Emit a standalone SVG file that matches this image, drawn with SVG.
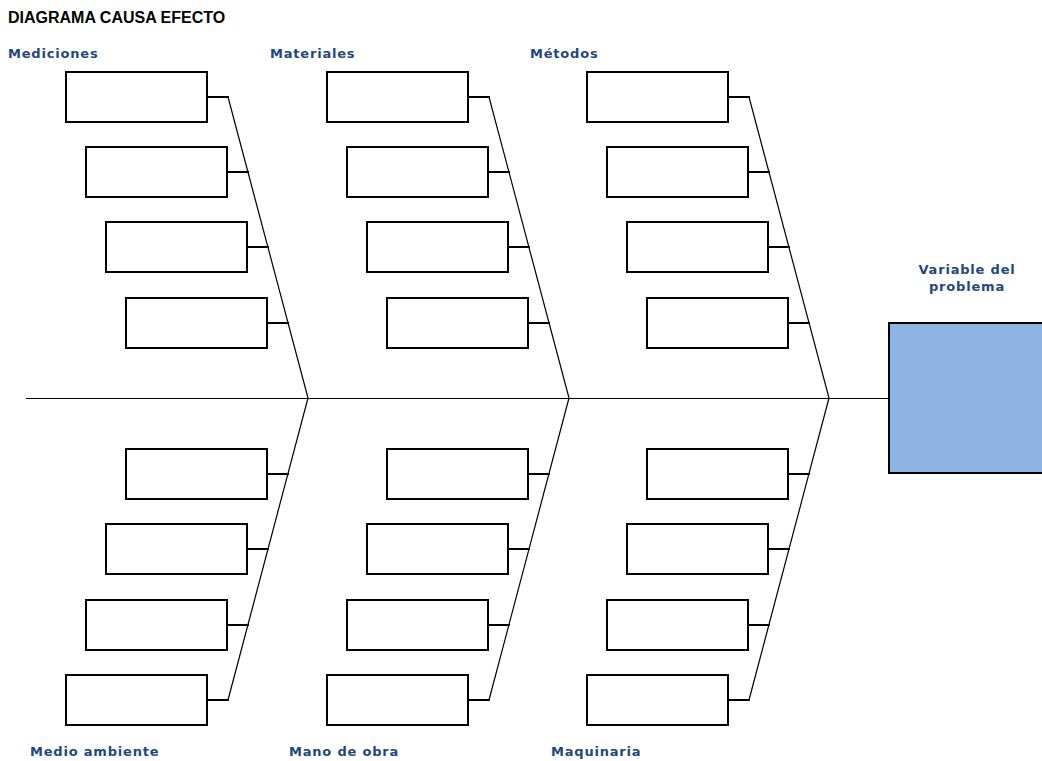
<svg xmlns="http://www.w3.org/2000/svg" width="1042" height="761" viewBox="0 0 1042 761">
<defs>
<style>
.box{fill:#fff;stroke:#000;stroke-width:2}
.stub{stroke:#000;stroke-width:2;fill:none}
.bone{stroke:#000;stroke-width:1.2;fill:none}
.spine{stroke:#000;stroke-width:1;fill:none}
.cat{font-family:"DejaVu Sans",Verdana,sans-serif;font-weight:bold;font-size:13px;letter-spacing:0.8px;fill:#1F497D}
.title{font-family:"Liberation Sans",Arial,sans-serif;font-weight:bold;font-size:16px;fill:#000}
</style>
<g id="cause-set">
<rect class="box" x="66" y="72" width="141" height="50"/><line class="stub" x1="207" y1="97" x2="229" y2="97"/>
<rect class="box" x="86" y="147" width="141" height="50"/><line class="stub" x1="227" y1="172" x2="249" y2="172"/>
<rect class="box" x="106" y="222" width="141" height="50"/><line class="stub" x1="247" y1="247" x2="269" y2="247"/>
<rect class="box" x="126" y="298" width="141" height="50"/><line class="stub" x1="267" y1="323" x2="289" y2="323"/>
</g>
<g id="cause-set-b">
<rect class="box" x="126" y="449" width="141" height="50"/><line class="stub" x1="267" y1="474" x2="289" y2="474"/>
<rect class="box" x="106" y="524" width="141" height="50"/><line class="stub" x1="247" y1="549" x2="269" y2="549"/>
<rect class="box" x="86" y="600" width="141" height="50"/><line class="stub" x1="227" y1="625" x2="249" y2="625"/>
<rect class="box" x="66" y="675" width="141" height="50"/><line class="stub" x1="207" y1="700" x2="229" y2="700"/>
</g>
</defs>
<text class="title" x="8" y="23">DIAGRAMA CAUSA EFECTO</text>
<g id="connectors">
<line class="spine" x1="26" y1="398.5" x2="888" y2="398.5"/>
<line class="bone" x1="228" y1="97" x2="308" y2="398"/>
<line class="bone" x1="489" y1="97" x2="569" y2="398"/>
<line class="bone" x1="749" y1="97" x2="829" y2="398"/>
<line class="bone" x1="308" y1="398" x2="228" y2="700"/>
<line class="bone" x1="569" y1="398" x2="489" y2="700"/>
<line class="bone" x1="829" y1="398" x2="749" y2="700"/>
</g>
<g id="mediciones"><text class="cat" x="8" y="58">Mediciones</text><use href="#cause-set"/></g>
<g id="materiales"><text class="cat" x="270" y="58">Materiales</text><use href="#cause-set" transform="translate(261,0)"/></g>
<g id="metodos"><text class="cat" x="530" y="58">Métodos</text><use href="#cause-set" transform="translate(521,0)"/></g>
<g id="medio-ambiente"><text class="cat" x="30" y="756">Medio ambiente</text><use href="#cause-set-b"/></g>
<g id="mano-de-obra"><text class="cat" x="289" y="756">Mano de obra</text><use href="#cause-set-b" transform="translate(261,0)"/></g>
<g id="maquinaria"><text class="cat" x="551" y="756">Maquinaria</text><use href="#cause-set-b" transform="translate(521,0)"/></g>
<g id="problema">
<text class="cat" x="967" y="274" text-anchor="middle">Variable del</text>
<text class="cat" x="967" y="291" text-anchor="middle">problema</text>
<rect x="889" y="323" width="160" height="150" fill="#8EB4E3" stroke="#000" stroke-width="2"/>
</g>
</svg>
